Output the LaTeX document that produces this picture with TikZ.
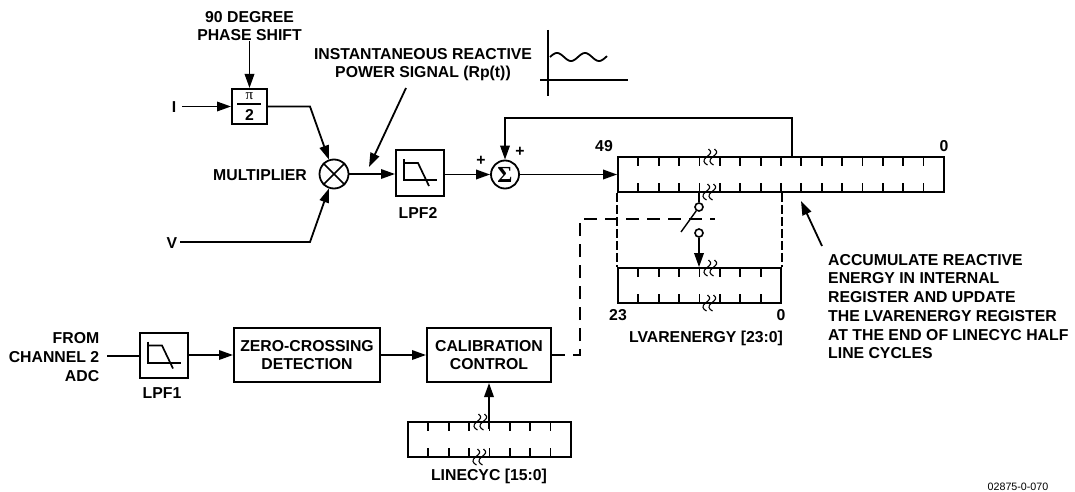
\documentclass[tikz,border=0pt]{standalone}
\usepackage{fontspec}
\setmainfont{Liberation Sans}
\newfontfamily\symfont{Liberation Serif}
\usetikzlibrary{arrows.meta}
\tikzset{
    sig/.style={line width=1.8pt, -{Triangle[length=14pt,width=9.5pt]}},
    wire/.style={line width=1.8pt},
    lbl/.style={inner sep=0pt, font=\fontsize{15.8}{18.7}\selectfont\bfseries},
    blockbox/.style={draw, line width=2pt, inner sep=0pt, align=center, font=\fontsize{15.8}{17.5}\selectfont\bfseries},
    regbox/.style={draw, line width=1.8pt, inner sep=0pt, minimum height=35pt},
    ctlline/.style={line width=1.3pt, dash pattern=on 13pt off 8pt},
    regdash/.style={line width=1.7pt, dash pattern=on 9pt off 3pt},
    swpin/.style={draw, circle, line width=1.6pt, inner sep=0pt, minimum size=8pt},
    lpfsym/.pic={
        \draw[line width=2pt] (-16,-14) -- (-16,7) -- (17,7);
        \draw[line width=1.7pt] (-16,-10) -- (-2,-10) -- (9,13);
    },
    brk/.pic={
        \foreach \d in {-3.5,2.5}
            \draw[line width=1.1pt] (\d+2,-8) .. controls (\d+6,-5) and (\d+4,-3) .. (\d,0)
                .. controls (\d-4,3) and (\d-3,6) .. (\d+1,8);
    },
}
\begin{document}
\begin{tikzpicture}[x=1pt, y=-1pt]
    \useasboundingbox (0,0) rectangle (1075,492);

    % upper path
    \node[lbl, align=center] (phaselbl) at (249.5,26) {90 DEGREE\\PHASE SHIFT};
    \node[blockbox, minimum width=35pt, minimum height=35pt] (shift) at (249.5,106.5) {};
    \draw[line width=1.3pt] (237,104) -- (261,104);
    \node[inner sep=0pt, font=\fontsize{15}{15}\selectfont\symfont] (pilbl) at (249.5,96.5) {π};
    \node[lbl] (twolbl) at (249.5,114.5) {2};
    \node[lbl] (ilbl) at (174,107) {I};
    \node[lbl] (vlbl) at (172,243) {V};
    \node[lbl] (multlbl) at (260,175) {MULTIPLIER};
    \node[draw, circle, line width=1.8pt, inner sep=0pt, minimum size=29pt] (mult) at (334,174) {};
    \draw[line width=1.6pt] (mult.45) -- (mult.225) (mult.135) -- (mult.315);
    \node[blockbox, minimum width=48pt, minimum height=46pt] (lpftwo) at (420,173) {};
    \pic at (lpftwo.center) {lpfsym};
    \node[lbl] (lpftwolbl) at (418,213) {LPF2};
    \node[draw, circle, line width=1.8pt, inner sep=0pt, minimum size=28pt, font=\fontsize{23}{23}\selectfont\bfseries\symfont] (sum) at (505,174.5) {Σ};
    \node[lbl] (plusa) at (481,161) {+};
    \node[lbl] (plusb) at (520,152) {+};
    \node[lbl, align=center] (powlbl) at (423,64.5) {INSTANTANEOUS REACTIVE\\POWER SIGNAL (Rp(t))};

    \coordinate (iin) at (182,106.5);
    \coordinate (vin) at (180,242);
    \coordinate (ibend) at (310,106.5);
    \coordinate (vbend) at (310,242);
    \coordinate (powtail) at (406,88);
    \coordinate (powtip) at (369,167);
    \draw[sig] (phaselbl.south) -- (shift.north);
    \draw[sig] (iin) -- (shift.west);
    \draw[sig] (shift.east) -- (ibend) -- (mult);
    \draw[sig] (vin) -- (vbend) -- (mult);
    \draw[sig] (mult.east) -- (lpftwo.west |- mult.east);
    \draw[sig] (lpftwo.east |- sum.west) -- (sum.west);
    \draw[sig] (powtail) -- (powtip);

    % signal sketch
    \draw[line width=1.4pt] (548,30) -- (548,96);
    \draw[line width=1.4pt] (540,80) -- (628,80);
    \draw[line width=1.8pt, domain=1:58, samples=50] plot ({549+\x}, {57-4*sin(12.857*(\x-1))});

    % registers
    \node[regbox, minimum width=326pt] (accreg) at (781,174.5) {};
    \node[regbox, minimum width=163pt] (lvarreg) at (699.5,285.5) {};
    \node[regbox, minimum width=163pt] (cycreg) at (489.5,439.5) {};
    \foreach \k in {1,...,15}
        \draw[wire] (618+20.37*\k,157) -- ++(0,9) (618+20.37*\k,192) -- ++(0,-9);
    \foreach \k in {1,...,7}
        \draw[wire] (618+20.37*\k,268) -- ++(0,9) (618+20.37*\k,303) -- ++(0,-9);
    \foreach \k in {1,...,7}
        \draw[wire] (408+20.37*\k,422) -- ++(0,9) (408+20.37*\k,457) -- ++(0,-9);
    \pic at (710,157) {brk};
    \pic at (709,192) {brk};
    \pic at (710,268) {brk};
    \pic at (709,303) {brk};
    \pic at (480,422) {brk};
    \pic at (479,457) {brk};
    \node[lbl] (msbtop) at (604,146) {49};
    \node[lbl] (lsbtop) at (944,146) {0};
    \node[lbl] (msblow) at (618,315) {23};
    \node[lbl] (lsblow) at (781,315) {0};
    \node[lbl] (lvarlbl) at (706,338) {LVARENERGY [23:0]};
    \node[lbl] (cyclbl) at (489,476) {LINECYC [15:0]};

    \coordinate (fb) at (792,118);
    \draw[sig] (fb |- accreg.north) -- (fb) -- (fb -| sum) -- (sum.north);
    \draw[sig] (sum.east) -- (accreg.west);
    \draw[regdash] (accreg.south west) -- (lvarreg.north west);
    \draw[regdash] (lvarreg.north east |- accreg.south) -- (lvarreg.north east);

    % switch
    \node[swpin] (swtop) at (699,207) {};
    \node[swpin] (swbot) at (699,233) {};
    \coordinate (blade) at (681,232);
    \draw[wire] (swtop |- accreg.south) -- (swtop.north);
    \draw[line width=1.4pt] (swtop) -- (blade);
    \draw[sig] (swbot.south) -- (swbot |- lvarreg.north);

    % lower path
    \node[lbl, align=right] (adclbl) at (54,357) {FROM\\CHANNEL 2\\ADC};
    \node[blockbox, minimum width=48pt, minimum height=45pt] (lpfone) at (164,355.5) {};
    \pic at (lpfone.center) {lpfsym};
    \node[lbl] (lpfonelbl) at (162,393) {LPF1};
    \node[blockbox, minimum width=146pt, minimum height=54pt] (zero) at (307,355) {ZERO-CROSSING\\DETECTION};
    \node[blockbox, minimum width=124pt, minimum height=54pt] (calib) at (489,355) {CALIBRATION\\CONTROL};
    \coordinate (adcout) at (107,356);
    \coordinate (ctla) at (580,355);
    \coordinate (ctlb) at (580,219);
    \coordinate (ctlc) at (715,219);
    \draw[wire] (adcout) -- (lpfone.west |- adcout);
    \draw[sig] (lpfone.east |- zero.west) -- (zero.west);
    \draw[sig] (zero.east) -- (calib.west);
    \draw[ctlline] (calib.east) -- (ctla) -- (ctlb) -- (ctlc);
    \draw[sig] (calib.south |- cycreg.north) ++(0,8) -- (calib.south);

    % notes
    \node[lbl, align=left, anchor=north west] (acclbl) at (828,254) {ACCUMULATE REACTIVE\\ENERGY IN INTERNAL\\REGISTER AND UPDATE\\THE LVARENERGY REGISTER\\AT THE END OF LINECYC HALF\\LINE CYCLES};
    \coordinate (acctail) at (822,246);
    \coordinate (acctip) at (801,201);
    \draw[sig] (acctail) -- (acctip);
    \node[inner sep=0pt, font=\fontsize{10.7}{12}\selectfont] (codelbl) at (1018,487) {02875-0-070};
\end{tikzpicture}
\end{document}
